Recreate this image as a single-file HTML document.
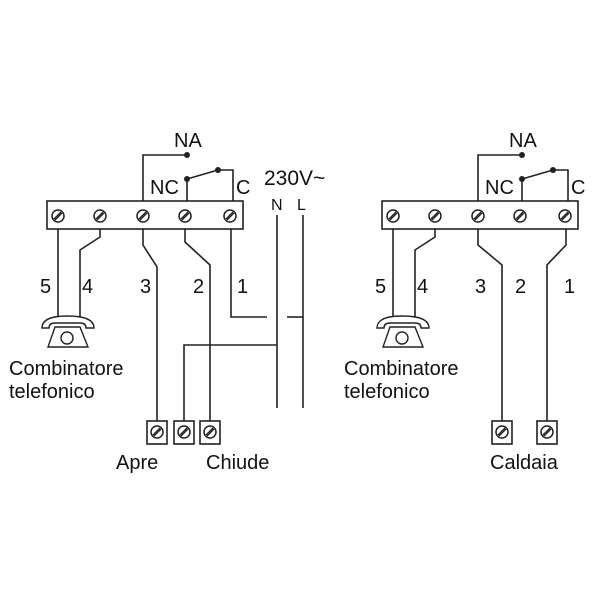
<!DOCTYPE html>
<html><head><meta charset="utf-8"><style>
html,body{margin:0;padding:0;background:#fff;}
svg{display:block;}
text{font-family:"Liberation Sans",sans-serif;fill:#111;}
</style></head><body>
<svg width="600" height="600" viewBox="0 0 600 600" xmlns="http://www.w3.org/2000/svg">
<defs>
<g id="screw"><circle r="6" fill="#fff" stroke="#222" stroke-width="1.5"/><line x1="-4" y1="3" x2="3" y2="-4" stroke="#222" stroke-width="1.3"/><line x1="-3" y1="4" x2="4" y2="-3" stroke="#222" stroke-width="1.3"/></g>
<g id="phone" fill="#fff" stroke="#222" stroke-width="1.4">
<path d="M55 327 L48 347 L88 347 L80 327 Z"/>
<circle cx="67" cy="338" r="6"/>
<path d="M42 328 Q42 316 67 316 Q94 316 94 328 L86 328 Q86 323 80 323 L55 323 Q49 323 49 328 Z"/>
</g>
<g id="top" fill="none" stroke="#222" stroke-width="1.6">
<rect x="47" y="201" width="196" height="28" fill="#fff"/>
<polyline points="143,201 143,155 187,155"/>
<line x1="187" y1="179" x2="187" y2="201"/>
<polyline points="187,179 218,170 233,170 233,201"/>
<polyline points="58,229 58,318"/>
<polyline points="100,229 100,237 80,250 80,318"/>
</g>
</defs>
<!-- left -->
<use href="#top"/>
<circle cx="187" cy="155" r="3" fill="#222"/><circle cx="187" cy="179" r="3" fill="#222"/><circle cx="218" cy="170" r="3" fill="#222"/>
<use href="#screw" x="58" y="216"/><use href="#screw" x="100" y="216"/><use href="#screw" x="143" y="216"/><use href="#screw" x="185" y="216"/><use href="#screw" x="230" y="216"/>
<use href="#phone"/>
<g fill="none" stroke="#222" stroke-width="1.6">
<polyline points="143,229 143,245 157,267 157,421"/>
<polyline points="185,229 185,242 210,265 210,421"/>
<polyline points="231,229 231,317 267,317"/>
<line x1="287" y1="317" x2="303" y2="317"/>
<line x1="277" y1="215" x2="277" y2="408"/>
<line x1="303" y1="215" x2="303" y2="408"/>
<polyline points="277,345 184,345 184,421"/>
<rect x="147" y="421" width="20" height="23" fill="#fff"/>
<rect x="174" y="421" width="20" height="23" fill="#fff"/>
<rect x="200" y="421" width="20" height="23" fill="#fff"/>
</g>
<use href="#screw" x="157" y="432"/><use href="#screw" x="184" y="432"/><use href="#screw" x="210" y="432"/>
<g font-size="20">
<text x="174" y="147">NA</text>
<text x="150" y="194">NC</text>
<text x="236" y="194">C</text>
<text x="264" y="185" font-size="21">230V~</text>
<text x="271" y="210" font-size="16">N</text>
<text x="297" y="210" font-size="16">L</text>
<text x="40" y="293">5</text><text x="82" y="293">4</text><text x="140" y="293">3</text><text x="193" y="293">2</text><text x="237" y="293">1</text>
<text x="9" y="375">Combinatore</text>
<text x="9" y="398">telefonico</text>
<text x="116" y="469">Apre</text>
<text x="206" y="469">Chiude</text>
</g>
<!-- right -->
<g transform="translate(335,0)">
<use href="#top"/>
<circle cx="187" cy="155" r="3" fill="#222"/><circle cx="187" cy="179" r="3" fill="#222"/><circle cx="218" cy="170" r="3" fill="#222"/>
<use href="#screw" x="58" y="216"/><use href="#screw" x="100" y="216"/><use href="#screw" x="143" y="216"/><use href="#screw" x="185" y="216"/><use href="#screw" x="230" y="216"/>
<use href="#phone"/>
<g font-size="20">
<text x="174" y="147">NA</text>
<text x="150" y="194">NC</text>
<text x="236" y="194">C</text>
<text x="40" y="293">5</text><text x="82" y="293">4</text><text x="140" y="293">3</text><text x="180" y="293">2</text><text x="229" y="293">1</text>
<text x="9" y="375">Combinatore</text>
<text x="9" y="398">telefonico</text>
</g>
</g>
<g fill="none" stroke="#222" stroke-width="1.6">
<polyline points="478,229 478,245 502,265 502,421"/>
<polyline points="566,229 566,245 547,265 547,421"/>
<rect x="492" y="421" width="20" height="23" fill="#fff"/>
<rect x="537" y="421" width="20" height="23" fill="#fff"/>
</g>
<use href="#screw" x="502" y="432"/><use href="#screw" x="547" y="432"/>
<text x="490" y="469" font-size="20">Caldaia</text>
</svg>
</body></html>
